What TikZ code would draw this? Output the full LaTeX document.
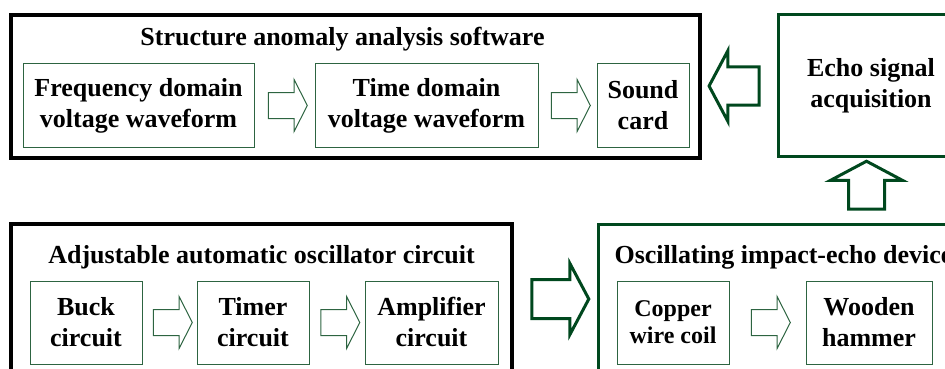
\documentclass[tikz,border=0pt]{standalone}
\usepackage{fontspec}
\setmainfont{Liberation Serif}
\usetikzlibrary{shapes.arrows,calc}

\definecolor{boxgreen}{RGB}{0,72,30}
\definecolor{thingreen}{RGB}{45,100,65}

\begin{document}
\begin{tikzpicture}[x=1pt, y=-1pt, font=\fontsize{26}{31}\selectfont\bfseries]
		\tikzstyle{outer}=[draw=black, line width=3.5pt, inner sep=0pt];
		\tikzstyle{greenbox}=[draw=boxgreen, line width=3pt, inner sep=0pt, align=center];
		\tikzstyle{block}=[draw=thingreen, line width=1pt, inner sep=0pt, align=center, minimum height=83pt];
		\tikzstyle{thinarrow}=[single arrow, draw=thingreen, line width=1pt, inner sep=0pt,
			inner ysep=12.5pt, single arrow head extend=13pt, single arrow tip angle=126, minimum height=39pt];
		\tikzstyle{bigarrow}=[single arrow, draw=boxgreen, line width=3pt, inner sep=0pt,
			single arrow tip angle=124];

		\useasboundingbox (0,0) rectangle (945,369);
		\clip (0,0) rectangle (945,369);

		\node[outer, minimum width=689pt, minimum height=143pt] (software) at (355.5,86.5) {};
		\node[anchor=base] (softtitle) at (342.5,46) {Structure anomaly analysis software};
		\node[block, minimum width=231pt] (freq) at (138.5,105.5) {Frequency domain\\voltage waveform};
		\node[block, minimum width=223pt] (time) at (426.5,105.5) {Time domain\\voltage waveform};
		\node[block, minimum width=92pt] (sound) at (643,105.5) {Sound\\card};
		\node[thinarrow] (a1) at ($(freq.east)!0.5!(time.west)$) {};
		\node[thinarrow] (a2) at ($(time.east)!0.5!(sound.west)$) {};

		\node[greenbox, minimum width=186pt, minimum height=141pt] (echo) at (871,85.5) {Echo signal\\acquisition};
		\node[bigarrow, shape border rotate=180, inner ysep=17.5pt, single arrow head extend=16.5pt,
			minimum height=50pt] (a3) at ($(software.east)!0.5!(echo.west)$) {};

		\node[outer, minimum width=501pt, minimum height=150pt] (oscillator) at (261.5,299) {};
		\node[anchor=base] (osctitle) at (261.5,263) {Adjustable automatic oscillator circuit};
		\node[block, minimum width=112pt] (buck) at (86,322.5) {Buck\\circuit};
		\node[block, minimum width=112pt] (timer) at (253,322.5) {Timer\\circuit};
		\node[block, minimum width=133pt] (amp) at (431.5,322.5) {Amplifier\\circuit};
		\node[thinarrow] (a4) at ($(buck.east)!0.5!(timer.west)$) {};
		\node[thinarrow] (a5) at ($(timer.east)!0.5!(amp.west)$) {};

		\node[greenbox, minimum width=402pt, minimum height=150pt] (device) at (799,299) {};
		\node[anchor=base west] (devtitle) at (611,263) {Oscillating impact-echo device};
		\node[block, minimum width=112pt, font=\fontsize{24}{27}\selectfont\bfseries] (coil) at (673,322.5) {Copper\\wire coil};
		\node[block, minimum width=126pt] (hammer) at (869,322.5) {Wooden\\hammer};
		\node[thinarrow] (a6) at ($(coil.east)!0.5!(hammer.west)$) {};

		\node[bigarrow, inner ysep=18pt, single arrow head extend=16pt,
			minimum height=57pt] (a7) at ($(oscillator.east)!0.5!(device.west)$) {};
		\node[bigarrow, shape border rotate=90, inner xsep=16.5pt, single arrow head extend=18pt,
			minimum height=48pt] (a8) at ($(echo.south)!0.5!(echo.south |- device.north)+(-4.5,0)$) {};
	\end{tikzpicture}
\end{document}
